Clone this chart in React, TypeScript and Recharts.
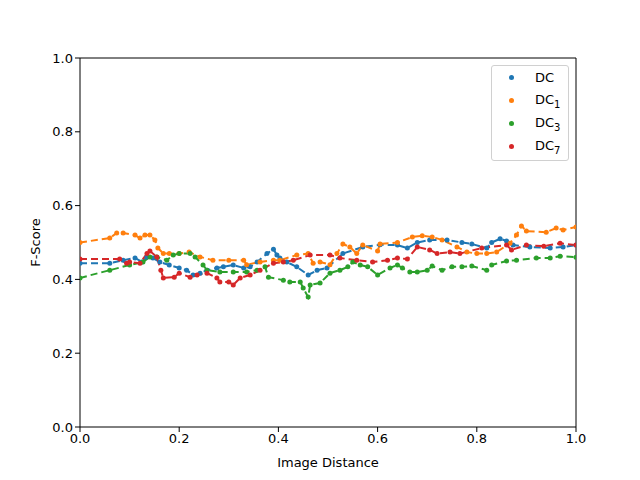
import React from 'react'
import { LineChart, Line, XAxis, YAxis, ReferenceLine } from 'recharts'

type Pt = { x: number; y: number }

const toPts = (xs: number[], ys: number[]): Pt[] => xs.map((x, i) => ({ x, y: ys[i] }))

const dcX = [0, 0.06, 0.087, 0.111, 0.125, 0.135, 0.147, 0.161, 0.18, 0.2, 0.215, 0.228, 0.242, 0.256, 0.276, 0.289, 0.309, 0.33, 0.343, 0.357, 0.377, 0.39, 0.397, 0.403, 0.417, 0.437, 0.46, 0.478, 0.498, 0.53, 0.57, 0.605, 0.64, 0.66, 0.68, 0.705, 0.74, 0.77, 0.79, 0.82, 0.83, 0.847, 0.86, 0.873, 0.907, 0.948, 0.974, 1.0]
const dcY = [0.444, 0.444, 0.452, 0.458, 0.447, 0.461, 0.458, 0.447, 0.439, 0.431, 0.425, 0.412, 0.417, 0.425, 0.431, 0.434, 0.439, 0.431, 0.434, 0.447, 0.47, 0.482, 0.466, 0.458, 0.447, 0.434, 0.412, 0.425, 0.431, 0.47, 0.488, 0.494, 0.493, 0.485, 0.5, 0.507, 0.507, 0.5, 0.496, 0.485, 0.5, 0.51, 0.504, 0.493, 0.488, 0.485, 0.488, 0.493]

const dc1X = [0, 0.06, 0.074, 0.087, 0.111, 0.121, 0.131, 0.141, 0.151, 0.157, 0.168, 0.18, 0.2, 0.22, 0.242, 0.268, 0.3, 0.33, 0.336, 0.363, 0.39, 0.403, 0.437, 0.46, 0.47, 0.484, 0.504, 0.518, 0.53, 0.544, 0.558, 0.57, 0.6, 0.605, 0.64, 0.67, 0.69, 0.71, 0.73, 0.76, 0.78, 0.8, 0.82, 0.84, 0.867, 0.88, 0.89, 0.9, 0.94, 0.96, 0.974, 1.0]
const dc1Y = [0.5, 0.512, 0.526, 0.526, 0.52, 0.512, 0.52, 0.52, 0.507, 0.485, 0.47, 0.47, 0.47, 0.474, 0.461, 0.452, 0.452, 0.452, 0.44, 0.447, 0.452, 0.452, 0.466, 0.47, 0.444, 0.447, 0.44, 0.47, 0.496, 0.488, 0.47, 0.493, 0.477, 0.496, 0.5, 0.515, 0.518, 0.515, 0.507, 0.488, 0.474, 0.47, 0.47, 0.474, 0.498, 0.52, 0.545, 0.531, 0.528, 0.539, 0.534, 0.542]

const dc3X = [0, 0.06, 0.1, 0.127, 0.141, 0.155, 0.175, 0.188, 0.2, 0.222, 0.232, 0.248, 0.256, 0.282, 0.309, 0.336, 0.357, 0.373, 0.38, 0.41, 0.423, 0.444, 0.45, 0.46, 0.464, 0.484, 0.504, 0.524, 0.54, 0.55, 0.565, 0.58, 0.6, 0.625, 0.64, 0.65, 0.665, 0.68, 0.7, 0.71, 0.73, 0.75, 0.77, 0.79, 0.82, 0.83, 0.86, 0.88, 0.92, 0.948, 0.968, 1.0]
const dc3Y = [0.404, 0.425, 0.439, 0.447, 0.461, 0.461, 0.452, 0.466, 0.47, 0.47, 0.461, 0.439, 0.425, 0.42, 0.42, 0.42, 0.425, 0.434, 0.406, 0.398, 0.393, 0.393, 0.377, 0.352, 0.385, 0.39, 0.417, 0.425, 0.434, 0.447, 0.439, 0.434, 0.412, 0.431, 0.439, 0.431, 0.42, 0.42, 0.425, 0.436, 0.425, 0.434, 0.434, 0.436, 0.425, 0.439, 0.45, 0.452, 0.458, 0.458, 0.463, 0.46]

const dc7X = [0, 0.08, 0.094, 0.1, 0.121, 0.135, 0.141, 0.155, 0.163, 0.168, 0.19, 0.2, 0.222, 0.236, 0.256, 0.276, 0.282, 0.3, 0.309, 0.323, 0.343, 0.363, 0.39, 0.41, 0.43, 0.464, 0.504, 0.524, 0.558, 0.59, 0.62, 0.64, 0.66, 0.68, 0.705, 0.72, 0.746, 0.766, 0.81, 0.86, 0.87, 0.9, 0.935, 0.968, 1.0]
const dc7Y = [0.455, 0.455, 0.444, 0.447, 0.444, 0.47, 0.477, 0.461, 0.425, 0.404, 0.406, 0.417, 0.406, 0.412, 0.417, 0.404, 0.393, 0.393, 0.385, 0.404, 0.412, 0.425, 0.444, 0.447, 0.452, 0.466, 0.466, 0.458, 0.452, 0.447, 0.452, 0.458, 0.455, 0.488, 0.48, 0.47, 0.474, 0.47, 0.485, 0.493, 0.48, 0.493, 0.49, 0.498, 0.493]

const ticks = [0, 0.2, 0.4, 0.6, 0.8, 1.0]

const series = [
  { name: 'DC', sub: '', color: '#1f77b4', data: toPts(dcX, dcY) },
  { name: 'DC', sub: '1', color: '#ff7f0e', data: toPts(dc1X, dc1Y) },
  { name: 'DC', sub: '3', color: '#2ca02c', data: toPts(dc3X, dc3Y) },
  { name: 'DC', sub: '7', color: '#d62728', data: toPts(dc7X, dc7Y) },
]

const font = 'DejaVu Sans, sans-serif'

function LegendBox() {
  return (
    <div
      style={{
        position: 'absolute',
        left: 491,
        top: 65,
        border: '1px solid #d0d0d0',
        borderRadius: 3,
        background: 'rgba(255,255,255,0.8)',
        width: 76,
        padding: '0 0 2px 0',
        fontFamily: font,
        fontSize: 13,
        color: '#000',
      }}
    >
      {series.map((s) => (
        <div key={s.name + s.sub} style={{ display: 'flex', alignItems: 'center', height: 23 }}>
          <span
            style={{ width: 5, height: 5, borderRadius: '50%', background: s.color, marginLeft: 17, marginRight: 21 }}
          />
          <span>
            {s.name}
            {s.sub && <sub style={{ fontSize: 10 }}>{s.sub}</sub>}
          </span>
        </div>
      ))}
    </div>
  )
}

const fmt = (v: number) => v.toFixed(1)

export default function App() {
  return (
    <div style={{ position: 'absolute', left: 0, top: 0, width: 640, height: 480, background: '#fff' }}>
      <LineChart width={640} height={480} margin={{ top: 58, right: 64, bottom: 8, left: 30 }}>
        <XAxis
          type="number"
          dataKey="x"
          domain={[0, 1]}
          ticks={ticks}
          tickFormatter={fmt}
          allowDataOverflow
          height={45}
          tickSize={5}
          stroke="#000"
          tick={{ fill: '#000', fontSize: 13, fontFamily: font }}
          label={{ value: 'Image Distance', position: 'insideBottom', offset: 5, fill: '#000', fontSize: 13, fontFamily: font }}
        />
        <YAxis
          type="number"
          dataKey="y"
          domain={[0, 1]}
          ticks={ticks}
          tickFormatter={fmt}
          allowDataOverflow
          width={50}
          tickSize={5}
          stroke="#000"
          tick={{ fill: '#000', fontSize: 13, fontFamily: font }}
          label={{ value: 'F-Score', angle: -90, position: 'insideLeft', offset: 5, fill: '#000', fontSize: 13, fontFamily: font, style: { textAnchor: 'middle' } }}
        />
        <ReferenceLine y={1} stroke="#000" />
        <ReferenceLine x={1} stroke="#000" />
        {series.map((s) => (
          <Line
            key={s.name + s.sub}
            data={s.data}
            dataKey="y"
            type="linear"
            stroke={s.color}
            strokeWidth={2}
            strokeDasharray="7 4"
            dot={{ r: 2.5, fill: s.color, stroke: 'none' }}
            activeDot={false}
            isAnimationActive={false}
          />
        ))}
      </LineChart>
      <LegendBox />
    </div>
  )
}
